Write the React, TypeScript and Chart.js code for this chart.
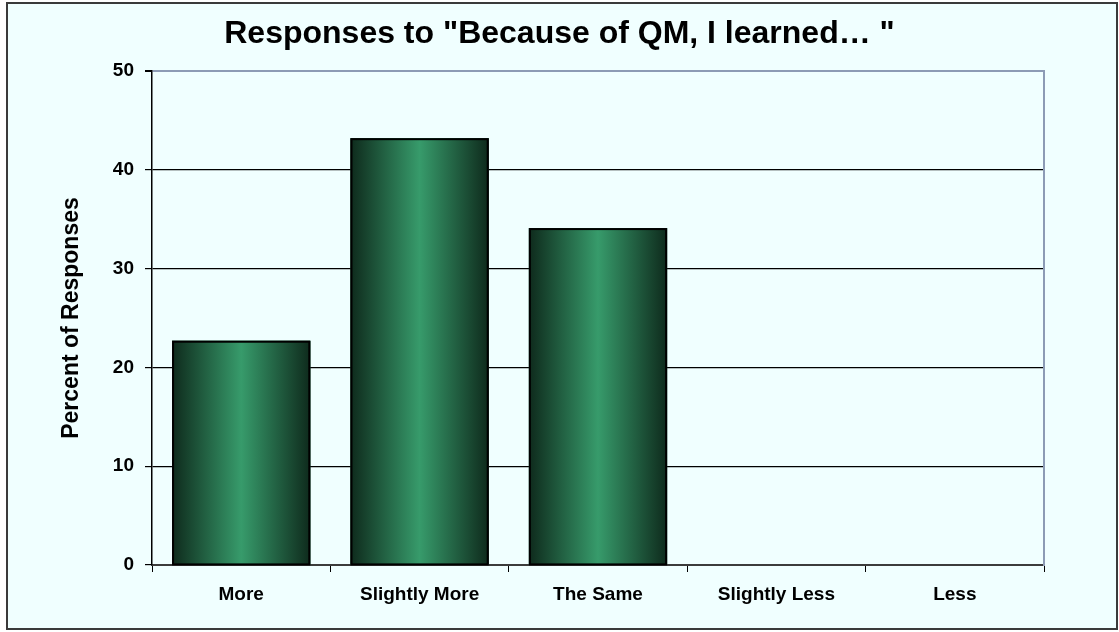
import React, { useEffect, useRef } from "react";
import { Chart, registerables } from "chart.js";
Chart.register(...registerables);

const categories = ["More", "Slightly More", "The Same", "Slightly Less", "Less"];
const percentValues = [22.7, 43.2, 34.1, 0, 0];
const yTickValues = [0, 10, 20, 30, 40, 50];
const titleText = 'Responses to "Because of QM, I learned\u2026 "';
const yAxisTitle = "Percent of Responses";

const FONT = "'Liberation Sans', Arial, Helvetica, sans-serif";

export default function App() {
  const ref = useRef<HTMLCanvasElement>(null);
  useEffect(() => {
    const canvas = ref.current!;
    const framePlugin = {
      id: "frame",
      beforeDraw(chart: any) {
        const { ctx, width, height } = chart;
        ctx.save();
        ctx.fillStyle = "#ffffff";
        ctx.fillRect(0, 0, width, height);
        ctx.fillStyle = "#F0FFFF";
        ctx.fillRect(7, 3, 1110, 626);
        ctx.restore();
      },
      afterDraw(chart: any) {
        const { ctx } = chart;
        ctx.save();
        ctx.strokeStyle = "#3a3a3a";
        ctx.lineWidth = 2;
        ctx.strokeRect(7, 3, 1110, 626);
        ctx.restore();
      },
    };
    const barPlugin = {
      id: "gradBars",
      afterDatasetsDraw(chart: any) {
        const meta = chart.getDatasetMeta(0);
        const ctx = chart.ctx;
        ctx.save();
        meta.data.forEach((el: any) => {
          const { x, y, base, width } = el.getProps(["x", "y", "base", "width"], true);
          const h = base - y;
          if (h < 0.5) return;
          const left = x - width / 2;
          const g = ctx.createLinearGradient(left, 0, left + width, 0);
          g.addColorStop(0, "#0e2a1c");
          g.addColorStop(0.5, "#379b6b");
          g.addColorStop(1, "#0e2a1c");
          ctx.fillStyle = g;
          ctx.fillRect(left, y, width, h);
          ctx.lineWidth = 2;
          ctx.strokeStyle = "#000000";
          ctx.strokeRect(left + 1, y + 1, width - 2, h - 1);
        });
        ctx.restore();
      },
    };
    const chart = new Chart(canvas, {
      type: "bar",
      data: {
        labels: categories,
        datasets: [
          {
            data: percentValues,
            backgroundColor: "#2a7a52",
            borderWidth: 0,
            barPercentage: 0.775,
            categoryPercentage: 1,
          },
        ],
      },
      options: {
        responsive: false,
        animation: false,
        events: [],
        layout: { padding: { left: 0, right: 0, top: 0, bottom: 0 } },
        plugins: {
          legend: { display: false },
          tooltip: { enabled: false },
          title: {
            display: true,
            text: titleText,
            color: "#000000",
            font: { family: FONT, size: 32, weight: "bold", lineHeight: 1.2 },
            padding: { top: 14.5, bottom: 18.1 },
          },
        },
        scales: {
          x: {
            offset: true,
            grid: {
              display: true,
              drawOnChartArea: false,
              drawTicks: true,
              tickLength: 7,
              offset: true,
              tickColor: "#000000",
              color: "#000000",
            },
            border: { display: true, color: "#3c3c3c", width: 2 },
            ticks: {
              color: "#000000",
              padding: 11,
              font: { family: FONT, size: 19, weight: "bold", lineHeight: 1.2 },
            },
            afterFit: (s: any) => {
              s.height = 67;
            },
          },
          y: {
            min: 0,
            max: 50,
            afterBuildTicks: (s: any) => {
              s.ticks = yTickValues.map((v) => ({ value: v }));
            },
            grid: {
              color: (c: any) => (c.tick && c.tick.value === 50 ? "#8C9BB5" : "#000000"),
              lineWidth: (c: any) => (c.tick && c.tick.value === 50 ? 2 : 1.2),
              tickColor: "#000000",
              tickLength: 7,
              drawTicks: true,
            },
            border: { display: true, color: "#000000", width: 1.5 },
            ticks: {
              color: "#000000",
              padding: 11,
              font: { family: FONT, size: 19, weight: "bold", lineHeight: 1.2 },
            },
            title: {
              display: true,
              text: yAxisTitle,
              color: "#000000",
              font: { family: FONT, size: 23, weight: "bold", lineHeight: 1.2 },
              padding: { top: 58, bottom: 0 },
            },
            afterFit: (s: any) => {
              s.width = 152;
            },
          },
          y2: {
            position: "right",
            min: 0,
            max: 50,
            grid: { display: false, drawOnChartArea: false },
            ticks: { display: false },
            border: { display: true, color: "#8C9BB5", width: 2 },
            afterFit: (s: any) => {
              s.width = 75;
            },
          },
        },
      },
      plugins: [framePlugin, barPlugin],
    } as any);
    return () => chart.destroy();
  }, []);
  return (
    <div style={{ position: "absolute", left: 0, top: 0, width: 1119, height: 632 }}>
      <canvas ref={ref} width={1119} height={632} style={{ display: "block" }} />
    </div>
  );
}
